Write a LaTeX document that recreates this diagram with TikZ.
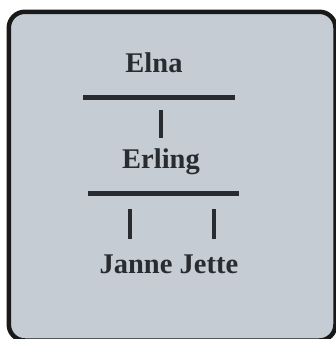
\documentclass[tikz,border=0pt]{standalone}
\usepackage{fontspec}
\setmainfont{Liberation Serif}
\definecolor{cardfill}{RGB}{197,204,212}
\definecolor{ink}{RGB}{40,44,48}
\begin{document}
\begin{tikzpicture}[x=1pt,y=-1pt,
  personname/.style={inner sep=0pt,anchor=base,text=ink,font=\fontsize{28.5}{30}\selectfont\bfseries},
  bar/.style={draw=ink,line width=5pt},
  tick/.style={draw=ink,line width=4.5pt}]
\useasboundingbox (0,0) rectangle (336,339);
\fill[white] (0,0) rectangle (336,339);
\draw[line width=4.5pt,draw=black!90,fill=cardfill,rounded corners=16pt] (8.8,11.8) rectangle (335.5,340.5);
\node[personname] (elna) at (154,73) {Elna};
\node[personname] (erling) at (161,168) {Erling};
\node[personname] (janne) at (136,273) {Janne};
\node[personname] (jette) at (209,273) {Jette};
\coordinate (b1l) at (83,97.8);
\coordinate (b1r) at (235,97.8);
\coordinate (b2l) at (88,193.3);
\coordinate (b2r) at (239,193.3);
\coordinate (t1a) at (161,110);
\coordinate (t1b) at (161,138);
\coordinate (t2a) at (130,209);
\coordinate (t2b) at (130,239);
\coordinate (t3a) at (214,209);
\coordinate (t3b) at (214,239);
\path[bar] (b1l) -- (b1r);
\path[bar] (b2l) -- (b2r);
\path[tick] (t1a) -- (t1b);
\path[tick] (t2a) -- (t2b);
\path[tick] (t3a) -- (t3b);
\end{tikzpicture}
\end{document}
